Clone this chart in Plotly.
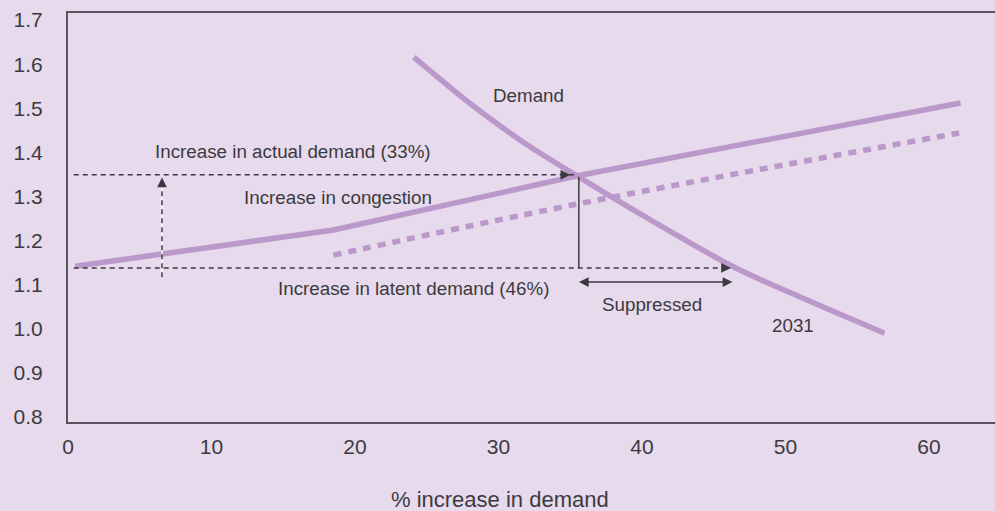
import plotly.graph_objects as go

# ---- data ----
supply_x = [0.5, 18.5, 35.5, 62.2]
supply_y = [1.142, 1.224, 1.347, 1.512]

supply_future_x = [18.5, 35.5, 62.1]
supply_future_y = [1.167, 1.283, 1.444]

demand_x = [24.1, 27.9, 31.6, 35.5, 39.9, 46.4, 51.3, 56.9]
demand_y = [1.616, 1.514, 1.426, 1.346, 1.260, 1.140, 1.068, 0.990]

x_ticks = [0, 10, 20, 30, 40, 50, 60]
y_ticks = [0.8, 0.9, 1.0, 1.1, 1.2, 1.3, 1.4, 1.5, 1.6, 1.7]

base_level = 1.138          # base congestion level
congested_level = 1.349     # congestion level at equilibrium
actual_pct = 35.6           # actual demand increase point
latent_pct = 46.2           # latent demand increase point
congestion_x = 6.55         # position of congestion arrow
suppressed_level = 1.106

PURPLE = "#bb98ca"
BG = "#e6daec"
INK = "#3c3a40"
FONT = "Liberation Sans, Arial, sans-serif"

fig = go.Figure()

fig.add_trace(go.Scatter(x=supply_x, y=supply_y, mode="lines",
                         line=dict(color=PURPLE, width=5.5), hoverinfo="skip"))
fig.add_trace(go.Scatter(x=supply_future_x, y=supply_future_y, mode="lines",
                         line=dict(color=PURPLE, width=5.5, dash="8px,7px", shape="spline"),
                         hoverinfo="skip"))
fig.add_trace(go.Scatter(x=demand_x, y=demand_y, mode="lines",
                         line=dict(color=PURPLE, width=5.5, shape="spline", smoothing=0.8),
                         hoverinfo="skip"))

# reference lines
fig.add_trace(go.Scatter(x=[0.4, actual_pct - 0.3], y=[congested_level, congested_level], mode="lines",
                         line=dict(color=INK, width=1.5, dash="5px,4px"), hoverinfo="skip"))
fig.add_trace(go.Scatter(x=[0.4, latent_pct - 0.3], y=[base_level, base_level], mode="lines",
                         line=dict(color=INK, width=1.5, dash="5px,4px"), hoverinfo="skip"))
fig.add_trace(go.Scatter(x=[congestion_x, congestion_x], y=[1.117, congested_level - 0.01], mode="lines",
                         line=dict(color="white", width=1.5), hoverinfo="skip"))
fig.add_trace(go.Scatter(x=[congestion_x, congestion_x], y=[1.117, congested_level - 0.01], mode="lines",
                         line=dict(color=INK, width=1.5, dash="5px,4px"), hoverinfo="skip"))
fig.add_trace(go.Scatter(x=[actual_pct, actual_pct], y=[base_level, congested_level - 0.004], mode="lines",
                         line=dict(color=INK, width=1.5), hoverinfo="skip"))

annotations = []
# arrow heads
annotations.append(dict(x=actual_pct - 0.6, y=congested_level, ax=-8, ay=0, showarrow=True,
                        arrowhead=2, arrowsize=1.3, arrowwidth=1.5, arrowcolor=INK, text=""))
annotations.append(dict(x=latent_pct, y=base_level, ax=-8, ay=0, showarrow=True,
                        arrowhead=2, arrowsize=1.3, arrowwidth=1.5, arrowcolor=INK, text=""))
annotations.append(dict(x=congestion_x, y=congested_level - 0.006, ax=0, ay=8, showarrow=True,
                        arrowhead=2, arrowsize=1.3, arrowwidth=1.5, arrowcolor=INK, text=""))
annotations.append(dict(x=latent_pct + 0.1, y=suppressed_level, ax=actual_pct - 0.1, ay=suppressed_level,
                        axref="x", ayref="y", showarrow=True, arrowside="end+start",
                        arrowhead=2, arrowsize=1.3, arrowwidth=1.5, arrowcolor=INK, text=""))

def txt(x, y, s, size=18.8):
    annotations.append(dict(x=x, y=y, text=s, showarrow=False,
                            font=dict(family=FONT, size=size, color=INK),
                            xanchor="center", yanchor="middle"))

txt(15.7, 1.403, "Increase in actual demand (33%)")
txt(18.8, 1.297, "Increase in congestion")
txt(32.1, 1.530, "Demand")
txt(24.1, 1.091, "Increase in latent demand (46%)")
txt(40.7, 1.055, "Suppressed")
txt(50.5, 1.007, "2031")

annotations.append(dict(xref="paper", yref="paper", x=(500 - 68) / 927, y=(422 - 500) / 409,
                        text="% increase in demand", showarrow=False,
                        font=dict(family=FONT, size=22, color=INK),
                        xanchor="center", yanchor="middle"))

fig.update_layout(
    width=995, height=511,
    margin=dict(l=68, r=0, t=13, b=89),
    paper_bgcolor=BG, plot_bgcolor=BG,
    showlegend=False,
    annotations=annotations,
    font=dict(family=FONT, color=INK),
)
fig.update_xaxes(range=[0, 64.6], tickvals=x_ticks, ticktext=[str(v) for v in x_ticks],
                 showgrid=False, zeroline=False, showline=True, linecolor="#57525b", linewidth=2,
                 mirror=True, ticks="", tickfont=dict(size=21, family=FONT, color=INK),
                 ticklabelstandoff=5)
fig.update_yaxes(range=[0.7887, 1.716], tickvals=y_ticks, ticktext=[f"{v:.1f}" for v in y_ticks],
                 showgrid=False, zeroline=False, showline=True, linecolor="#57525b", linewidth=2,
                 ticks="", tickfont=dict(size=21, family=FONT, color=INK),
                 ticklabelstandoff=19)

fig.write_html("out.html", config={"displayModeBar": False},
               post_script="document.body.style.margin='0';document.body.style.padding='0';"
                           "document.body.style.background='" + BG + "';")
